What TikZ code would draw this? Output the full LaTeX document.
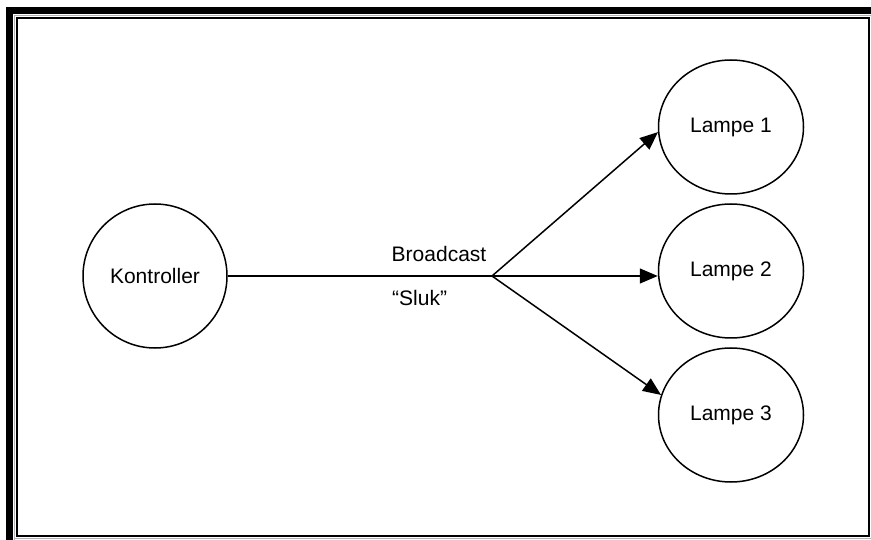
\documentclass[tikz,border=0pt]{standalone}
\usepackage{fontspec}
\setmainfont{Liberation Sans}
\usetikzlibrary{arrows.meta,shapes.geometric}
\tikzset{
  unit/.style={draw=black, line width=1.5pt, ellipse, inner sep=0pt,
    font=\fontsize{21}{24}\selectfont},
  ctrlunit/.style={unit, minimum width=144pt, minimum height=144pt},
  lampunit/.style={unit, minimum width=145pt, minimum height=134pt},
  link/.style={line width=1.5pt},
  sendto/.style={link, -{Triangle[length=18pt,width=15pt]}},
  caption/.style={font=\fontsize{21}{24}\selectfont, inner sep=0pt}
}
\begin{document}
\begin{tikzpicture}[x=1pt,y=-1pt]
  \useasboundingbox (0,0) rectangle (871,540);
  % page frame: heavy shadow bands, a faint grey rule and the thin inner box
  \fill[black] (6,7) rectangle (871,14);
  \fill[black] (6,7) rectangle (13,540);
  \draw[gray!60, line width=1pt] (14.5,540) |- (871,15.5);
  \draw[gray!60, line width=1pt] (14.5,538.5) -- (871,538.5);
  \draw[black, line width=2pt] (17,18) rectangle (869,536);

  % controller and lamps
  \node[ctrlunit] (ctrl) at (155,276) {Kontroller};
  \node[lampunit] (l1) at (731,127) {Lampe 1};
  \node[lampunit] (l2) at (731,271) {Lampe 2};
  \node[lampunit] (l3) at (731,415) {Lampe 3};

  % broadcast fan-out
  \coordinate (hub) at (492,276);
  \draw[link] (ctrl.east |- hub) -- (hub);
  \draw[sendto] (hub) -- (l1.184);
  \draw[sendto] (hub) -- (hub -| l2.west);
  \draw[sendto] (hub) -- (l3.164);

  \node[caption] (bc) at (439,254) {Broadcast};
  \node[caption, anchor=west] (sl) at (392,298) {“Sluk”};
\end{tikzpicture}
\end{document}
